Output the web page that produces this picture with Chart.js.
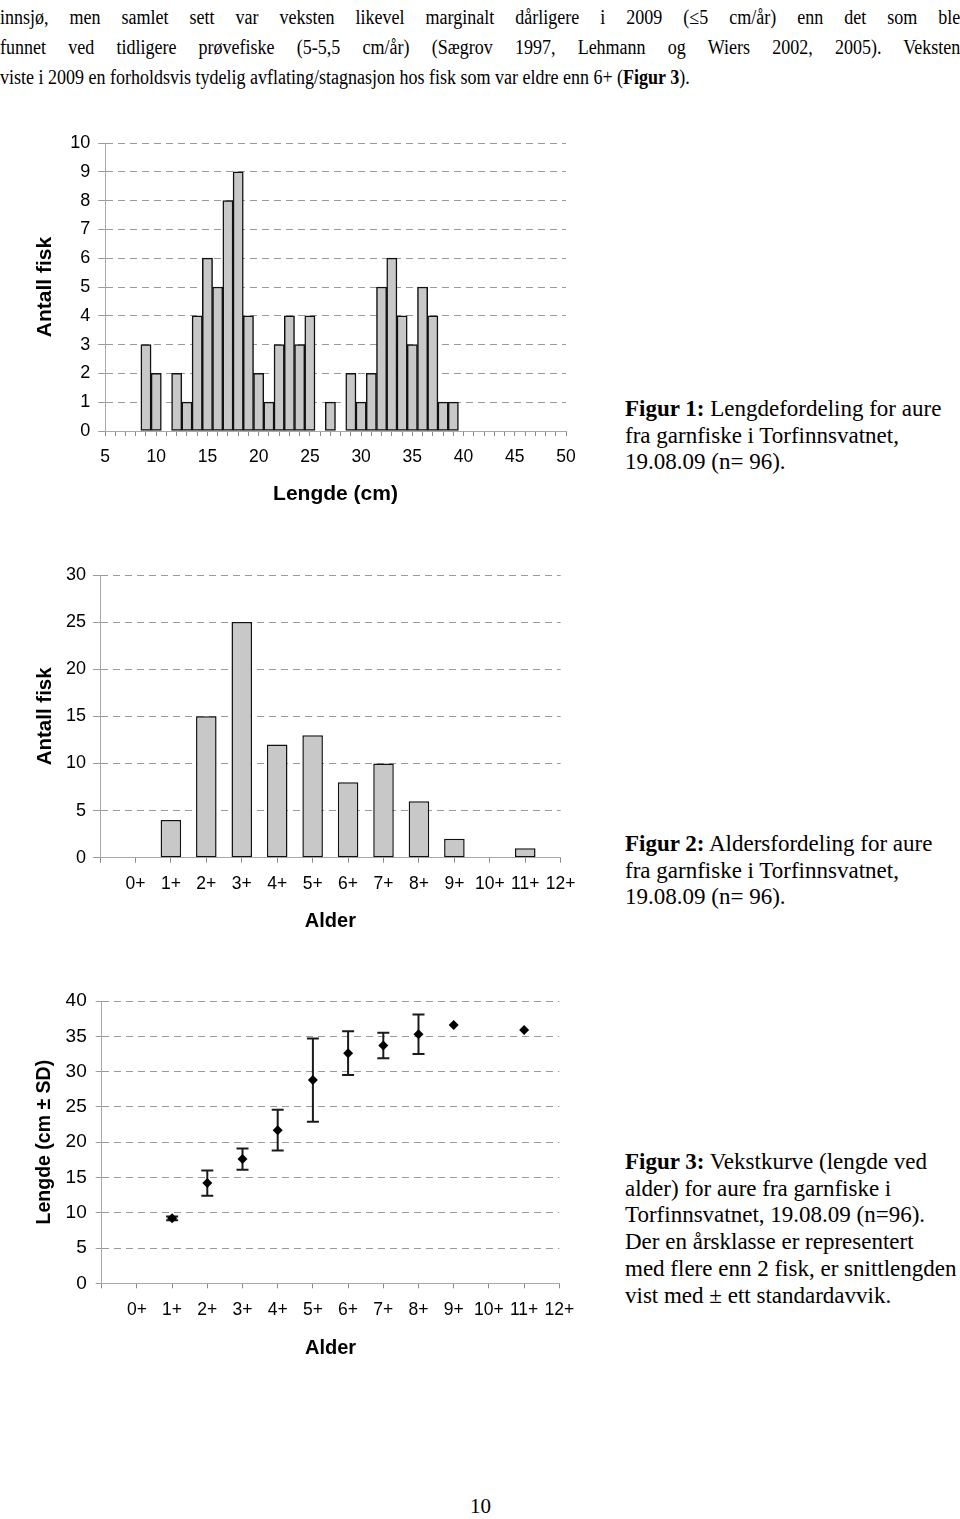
<!DOCTYPE html>
<html lang="no">
<head>
<meta charset="utf-8">
<title>Torfinnsvatnet - aure</title>
<script src="https://cdn.jsdelivr.net/npm/chart.js@4.4.1/dist/chart.umd.min.js"></script>
<style>
  html, body { margin: 0; padding: 0; background: #fff; }
  #page { position: relative; width: 960px; height: 1519px; overflow: hidden;
          font-family: "Liberation Serif", "Times New Roman", serif; color: #000; }
  .line { position: absolute; left: 0; width: 1067px; font-size: 20px; line-height: 30px;
          white-space: nowrap; transform: scaleX(0.9); transform-origin: 0 0; }
  .just { white-space: normal; text-align: justify; text-align-last: justify; }
  canvas { position: absolute; left: 0; }
  .cap { position: absolute; left: 625px; font-size: 23px; line-height: 26.7px; white-space: nowrap; }
  #pnum { position: absolute; left: 470px; top: 1494px; font-size: 21px; }
</style>
</head>
<body>
<div id="page">
  <div class="line just" style="top:2px">innsjø, men samlet sett var veksten likevel marginalt dårligere i 2009 (≤5 cm/år) enn det som ble</div>
  <div class="line just" style="top:32px">funnet ved tidligere prøvefiske (5-5,5 cm/år) (Sægrov 1997, Lehmann og Wiers 2002, 2005). Veksten</div>
  <div class="line" style="top:62px">viste i 2009 en forholdsvis tydelig avflating/stagnasjon hos fisk som var eldre enn 6+ (<b>Figur 3</b>).</div>

  <canvas id="lengthChart" width="600" height="400" style="top:120px"></canvas>
  <div class="cap" style="top:396px"><b>Figur 1:</b> Lengdefordeling for aure<br>fra garnfiske i Torfinnsvatnet,<br>19.08.09 (n= 96).</div>

  <canvas id="ageChart" width="600" height="420" style="top:540px"></canvas>
  <div class="cap" style="top:831px"><b>Figur 2:</b> Aldersfordeling for aure<br>fra garnfiske i Torfinnsvatnet,<br>19.08.09 (n= 96).</div>

  <canvas id="growthChart" width="600" height="420" style="top:970px"></canvas>
  <div class="cap" style="top:1149px"><b>Figur 3:</b> Vekstkurve (lengde ved<br>alder) for aure fra garnfiske i<br>Torfinnsvatnet, 19.08.09 (n=96).<br>Der en årsklasse er representert<br>med flere enn 2 fisk, er snittlengden<br>vist med ± ett standardavvik.</div>

  <div id="pnum">10</div>
</div>

<script>
// Figur 1: lengdefordeling (cm)
const lengthBins = [5, 6, 7, 8, 9, 10, 11, 12, 13, 14, 15, 16, 17, 18, 19, 20, 21, 22, 23, 24, 25, 26, 27,
  28, 29, 30, 31, 32, 33, 34, 35, 36, 37, 38, 39, 40, 41, 42, 43, 44, 45, 46, 47, 48, 49, 50];
const lengthCounts = [0, 0, 0, 0, 3, 2, 0, 2, 1, 4, 6, 5, 8, 9, 4, 2, 1, 3, 4, 3, 4, 0, 1,
  0, 2, 1, 2, 5, 6, 4, 3, 5, 4, 1, 1, 0, 0, 0, 0, 0, 0, 0, 0, 0, 0, 0];

// Figur 2 og 3: aldersklasser
const ageClasses = ['0+', '1+', '2+', '3+', '4+', '5+', '6+', '7+', '8+', '9+', '10+', '11+', '12+'];
const ageCounts = [0, 4, 15, 25, 12, 13, 8, 10, 6, 2, 0, 1, 0];

// Figur 3: snittlengde og standardavvik (cm)
const meanLength = [null, 9.2, 14.2, 17.6, 21.7, 28.8, 32.6, 33.7, 35.3, 36.6, null, 35.9, null];
const sdLength = [null, 0.25, 1.8, 1.5, 2.9, 5.9, 3.1, 1.8, 2.8, null, null, null, null];

const countTicks = [0, 1, 2, 3, 4, 5, 6, 7, 8, 9, 10];

Chart.defaults.font.family = '"Liberation Sans", Arial, sans-serif';
Chart.defaults.color = '#000';
Chart.defaults.animation = false;

const gridGray = '#9a9a9a';
const axisGray = '#a8a8a8';
const barFill = '#c8c8c8';
const barEdge = '#111';

function fixWidth(w) { return scale => { scale.width = w; }; }
function fixHeight(h) { return scale => { scale.height = h; }; }

function yScale(opts) {
  return {
    min: opts.min, max: opts.max,
    afterFit: fixWidth(opts.width),
    afterBuildTicks: opts.values ? (s => { s.ticks = opts.values.map(v => ({ value: v })); }) : undefined,
    ticks: { stepSize: opts.step, padding: opts.pad, font: { size: opts.tickSize } },
    grid: { color: gridGray, tickColor: gridGray, tickLength: opts.tick, tickBorderDash: [] },
    border: { color: axisGray, width: 1, dash: [7, 5] },
    title: { display: true, text: opts.title, padding: { top: opts.titlePad, bottom: 0 },
             font: { size: opts.titleSize, weight: 'bold' } }
  };
}

function ageXScale(height, titlePad) {
  return {
    type: 'linear', min: -1, max: 12, offset: false,
    afterFit: fixHeight(height),
    ticks: {
      stepSize: 1, autoSkip: false, maxRotation: 0, padding: 11, font: { size: 17.5 },
      callback: v => (v >= 0 ? ageClasses[v] : '')
    },
    grid: { offset: false, drawOnChartArea: false, tickLength: 5, tickColor: '#8a8a8a' },
    border: { color: axisGray, width: 1 },
    title: { display: true, text: 'Alder', padding: { top: 0, bottom: titlePad },
             font: { size: 20, weight: 'bold' } }
  };
}

// Figur 1
new Chart(document.getElementById('lengthChart'), {
  type: 'bar',
  data: {
    labels: lengthBins.map(String),
    datasets: [{
      data: lengthCounts,
      backgroundColor: barFill,
      borderColor: barEdge,
      borderWidth: 1.5,
      borderSkipped: false,
      categoryPercentage: 1,
      barPercentage: 1
    }]
  },
  options: {
    responsive: false,
    layout: { padding: { left: 30, top: 23, right: 34, bottom: 0 } },
    plugins: { legend: { display: false }, tooltip: { enabled: false } },
    scales: {
      x: {
        offset: false,
        afterFit: fixHeight(89),
        ticks: {
          autoSkip: false, maxRotation: 0, padding: 11, font: { size: 17.5 },
          callback: (v, i) => (lengthBins[i] % 5 === 0 ? String(lengthBins[i]) : '')
        },
        grid: { offset: false, drawOnChartArea: false, tickLength: 5, tickColor: '#8a8a8a' },
        border: { color: axisGray, width: 1 },
        title: { display: true, text: 'Lengde (cm)', padding: { top: 0, bottom: 13.4 },
                 font: { size: 21, weight: 'bold' } }
      },
      y: yScale({ min: 0, max: 10, step: 1, values: countTicks, width: 75, pad: 8, tick: 6.7,
                  tickSize: 18, title: 'Antall fisk', titlePad: 2.4, titleSize: 21 })
    }
  }
});

// Figur 2
new Chart(document.getElementById('ageChart'), {
  type: 'bar',
  data: {
    datasets: [{
      data: ageCounts.map((c, i) => ({ x: i, y: c })),
      backgroundColor: barFill,
      borderColor: barEdge,
      borderWidth: 1.5,
      borderSkipped: false,
      categoryPercentage: 1,
      barPercentage: 0.58
    }]
  },
  options: {
    responsive: false,
    layout: { padding: { left: 30, top: 35, right: 39.3, bottom: 0 } },
    plugins: { legend: { display: false }, tooltip: { enabled: false } },
    scales: {
      x: ageXScale(102.3, 27),
      y: yScale({ min: 0, max: 30, step: 5, width: 70, pad: 7, tick: 7,
                  tickSize: 18, title: 'Antall fisk', titlePad: 3, titleSize: 20.5 })
    }
  }
});

// Figur 3: feilstolper (± 1 SD) tegnet via chartens egne skalaer
const errorBars = {
  id: 'errorBars',
  beforeDatasetsDraw(chart) {
    const { ctx, scales: { x, y } } = chart;
    ctx.save();
    ctx.strokeStyle = '#1a1a1a';
    ctx.lineWidth = 2;
    meanLength.forEach((m, i) => {
      const sd = sdLength[i];
      if (m === null || !sd) return;
      const px = x.getPixelForValue(i);
      const hi = y.getPixelForValue(m + sd);
      const lo = y.getPixelForValue(m - sd);
      ctx.beginPath();
      ctx.moveTo(px, hi); ctx.lineTo(px, lo);
      ctx.moveTo(px - 6, hi); ctx.lineTo(px + 6, hi);
      ctx.moveTo(px - 6, lo); ctx.lineTo(px + 6, lo);
      ctx.stroke();
    });
    ctx.restore();
  }
};

new Chart(document.getElementById('growthChart'), {
  type: 'scatter',
  data: {
    datasets: [{
      data: meanLength.map((m, i) => ({ x: i, y: m })).filter(p => p.y !== null),
      pointStyle: 'rectRot',
      pointRadius: 5,
      backgroundColor: '#000',
      borderColor: '#000',
      borderWidth: 0
    }]
  },
  options: {
    responsive: false,
    layout: { padding: { left: 30, top: 31, right: 40.7, bottom: 0 } },
    plugins: { legend: { display: false }, tooltip: { enabled: false } },
    scales: {
      x: ageXScale(106.7, 30),
      y: yScale({ min: 0, max: 40, step: 5, width: 71.7, pad: 9, tick: 6,
                  tickSize: 19, title: 'Lengde (cm ± SD)', titlePad: 3.3, titleSize: 19.5 })
    }
  },
  plugins: [errorBars]
});
</script>
</body>
</html>
